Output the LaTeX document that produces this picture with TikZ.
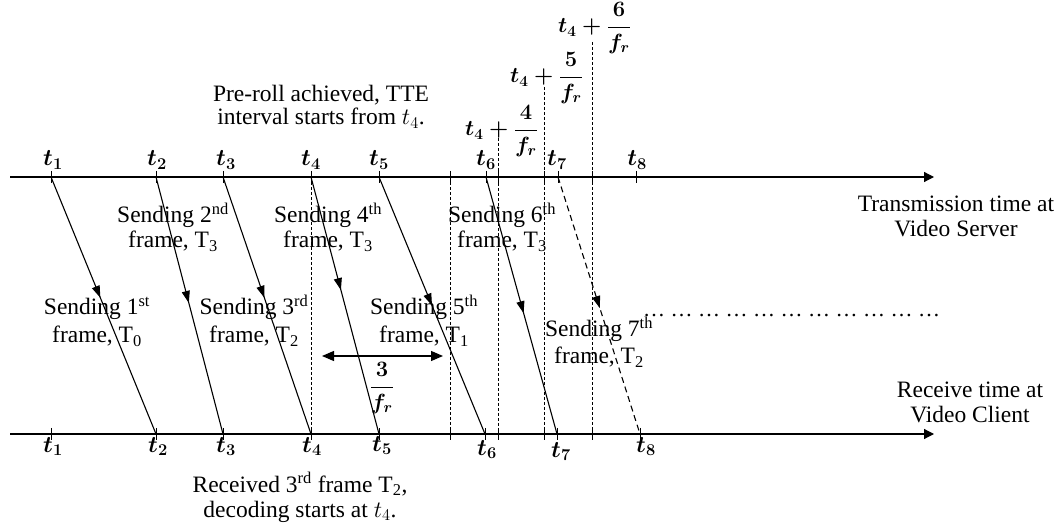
\RequirePackage{fix-cm}
\documentclass[tikz,border=0pt]{standalone}
\usepackage{amsmath}
\usepackage{fontspec}
\setmainfont{Liberation Serif}
\usetikzlibrary{arrows.meta,decorations.markings,calc}
\newcommand{\bfm}[1]{{\boldmath$#1$}}
\newcommand{\bt}[1]{\bfm{t_{#1}}}
\begin{document}
\begin{tikzpicture}[x=1pt,y=-1pt,
  every node/.style={font=\fontsize{23.5}{25}\selectfont, inner sep=0pt},
  smallfont/.style={font=\fontsize{22}{25}\selectfont},
  axis/.style={line width=1.2pt,-{Triangle[length=10pt,width=10pt]}},
  tickmark/.style={line width=0.9pt},
  vdash/.style={line width=0.7pt,dash pattern=on 3pt off 2pt},
  sendarrow/.style={line width=1.1pt, postaction={decorate},
    decoration={markings, mark=at position #1 with {\arrow{Triangle[length=12pt,width=8pt]}}}},
  tlab/.style={anchor=base},
  txt/.style={align=center, anchor=base}
]
\useasboundingbox (0,0) rectangle (1061,529);

% axes
\coordinate (TS) at (10,177); \coordinate (TE) at (934,177);
\coordinate (BS) at (10,434); \coordinate (BE) at (934,434);
\draw[axis] (TS) -- (TE);
\draw[axis] (BS) -- (BE);

% tick coordinates
\foreach \n/\x in {1/51,2/156,3/223,4/311,5/379,A/450,6/486,B/498,C/544,7/558,D/592,8/636}{
  \coordinate (T\n) at (\x,177);
  \draw[tickmark] ($(T\n)+(0,-6)$) -- ($(T\n)+(0,6)$);
}
\foreach \n/\x in {1/51,2/156,3/223,4/311,5/379,A/450,6/485,B/498,C/544,7/557,D/592,8/640}{
  \coordinate (B\n) at (\x,434);
  \draw[tickmark] ($(B\n)+(0,-6)$) -- ($(B\n)+(0,6)$);
}

% top labels
\node[tlab] (lt1) at (53,166) {\bt{1}};
\node[tlab] (lt2) at (157,166) {\bt{2}};
\node[tlab] (lt3) at (226,166) {\bt{3}};
\node[tlab] (lt4) at (311,166) {\bt{4}};
\node[tlab] (lt5) at (379,166) {\bt{5}};
\node[tlab] (lt6) at (486,166) {\bt{6}};
\node[tlab] (lt7) at (557,166) {\bt{7}};
\node[tlab] (lt8) at (637,166) {\bt{8}};
% bottom labels
\node[tlab] (lb1) at (53,452) {\bt{1}};
\node[tlab] (lb2) at (158,452) {\bt{2}};
\node[tlab] (lb3) at (226,452) {\bt{3}};
\node[tlab] (lb4) at (312,452) {\bt{4}};
\node[tlab] (lb5) at (382,451) {\bt{5}};
\node[tlab] (lb6) at (487,455) {\bt{6}};
\node[tlab] (lb7) at (561,457) {\bt{7}};
\node[tlab] (lb8) at (646,452) {\bt{8}};

% fraction labels
\node[smallfont,anchor=base west] (f4) at (465,136) {\bfm{t_4+\dfrac{4}{f_r}}};
\node[smallfont,anchor=base west] (f5) at (510,83) {\bfm{t_4+\dfrac{5}{f_r}}};
\node[smallfont,anchor=base west] (f6) at (558,33) {\bfm{t_4+\dfrac{6}{f_r}}};
\coordinate (DB) at (498,128);
\coordinate (DC) at (544,87);
\coordinate (DD) at (592,42);

% dashed verticals
\draw[vdash] (T4) -- (B4);
\draw[vdash] (TA) -- (BA);
\draw[vdash] (DB) -- (BB);
\draw[vdash] (DC) -- (BC);
\draw[vdash] (DD) -- (BD);

% sending arrows
\draw[sendarrow=0.47] (T1) -- (B2);
\draw[sendarrow=0.49] (T2) -- (B3);
\draw[sendarrow=0.47] (T3) -- (B4);
\draw[sendarrow=0.44] (T4) -- (B5);
\draw[sendarrow=0.5] (T5) -- (B6);
\draw[sendarrow=0.53] (T6) -- (B7);
\draw[sendarrow=0.51, dash pattern=on 6pt off 4pt] (T7) -- (B8);

% 3/fr interval
\coordinate (DL) at (322,356); \coordinate (DR) at (443,356);
\draw[line width=1.2pt,{Triangle[length=12pt,width=10pt]}-{Triangle[length=12pt,width=10pt]}] (DL) -- (DR);
\node[smallfont,anchor=base] (f3) at (382,392.5) {\bfm{\dfrac{3}{f_r}}};

% sending texts (base = baseline of the last line)
\node[txt] (s2) at (173,248) {Sending 2\textsuperscript{nd}\\frame, T\textsubscript{3}};
\node[txt] (s4) at (328,248) {Sending 4\textsuperscript{th}\\frame, T\textsubscript{3}};
\node[txt] (s6) at (502,248) {Sending 6\textsuperscript{th}\\frame, T\textsubscript{3}};
\node[txt] (s1) at (97,343) {Sending 1\textsuperscript{st}\\[3pt]frame, T\textsubscript{0}};
\node[txt] (s3) at (254,343) {Sending 3\textsuperscript{rd}\\[3pt]frame, T\textsubscript{2}};
\node[txt] (s5) at (424,343) {Sending 5\textsuperscript{th}\\[3pt]frame, T\textsubscript{1}};
\node[txt] (s7) at (599,364) {Sending 7\textsuperscript{th}\\[2pt]frame, T\textsubscript{2}};

% other texts
\node[txt] (pre) at (321,125) {Pre-roll achieved, TTE\\[-2pt]interval starts from $t_4$.};
\node[txt] (rec) at (300,517) {Received 3\textsuperscript{rd} frame T\textsubscript{2},\\decoding starts at $t_4$.};
\node[txt] (srv) at (956,237) {Transmission time at\\Video Server};
\node[txt] (cli) at (970,423) {Receive time at\\Video Client};
\node[smallfont,anchor=base west] (dots) at (643,317) {… … … … … … … … … … …};
\end{tikzpicture}
\end{document}
